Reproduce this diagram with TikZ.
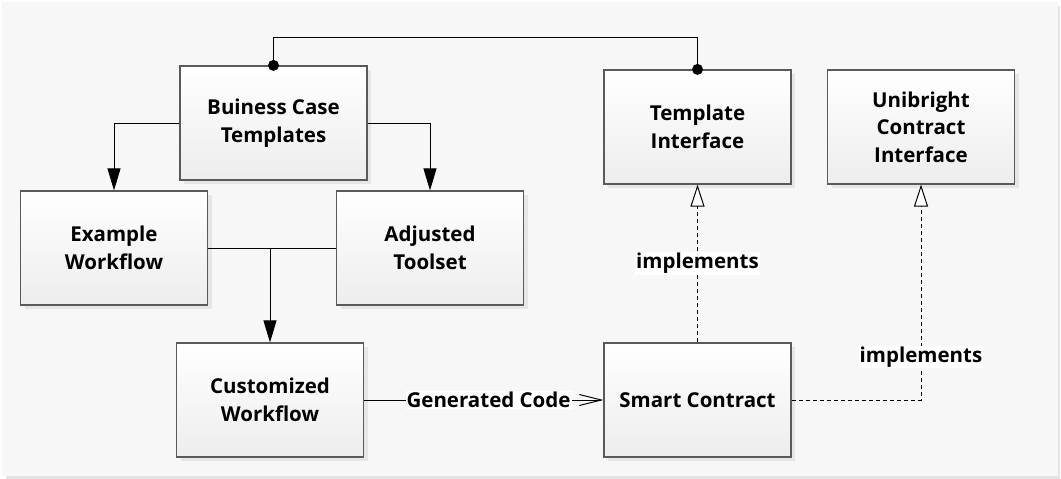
\documentclass[tikz,border=0pt]{standalone}
\usepackage{fontspec}
\setmainfont{Open Sans}
\usetikzlibrary{arrows.meta, shadows}

\definecolor{panelbg}{HTML}{F7F7F7}
\definecolor{panelshade}{HTML}{E4E4E4}
\definecolor{boxline}{HTML}{5A5A5A}
\definecolor{boxshade}{HTML}{E6E6E6}

\tikzset{
  block/.style={draw=boxline, line width=1.2pt, top color=white, bottom color=black!7,
    minimum width=187pt, minimum height=114pt, align=center,
    font=\bfseries\fontsize{20.5}{27.5}\selectfont,
    drop shadow={shadow xshift=4pt, shadow yshift=-4pt, fill=boxshade, opacity=1}},
  link/.style={line width=1pt, black},
  dashlink/.style={link, dash pattern=on 4pt off 3pt},
  lbl/.style={fill=white, inner sep=1pt, font=\bfseries\fontsize{20.5}{25}\selectfont},
  solidtip/.style={-{Triangle[length=22pt,width=13pt]}},
  opentip/.style={-{Triangle[open,length=22pt,width=14pt,fill=white]}},
  bartip/.style={-{Straight Barb[length=22pt,width=11pt]}}
}

\begin{document}
\begin{tikzpicture}[x=1pt, y=-1pt]
  \useasboundingbox (0,0) rectangle (1061,479);
  % panel
  \fill[panelshade] (6,6) rectangle (1060,479);
  \fill[panelbg] (2,2) rectangle (1058,476);

  % blocks
  \node[block] (bct) at (273.5,123) {Buiness Case\\Templates};
  \node[block] (exwf) at (114,248) {Example\\Workflow};
  \node[block] (adjts) at (430,248) {Adjusted\\Toolset};
  \node[block] (cuswf) at (270,400) {Customized\\Workflow};
  \node[block] (tmplif) at (697.5,127) {Template\\Interface};
  \node[block] (unibif) at (921,127) {Unibright\\Contract\\Interface};
  \node[block] (smartc) at (697.5,400) {Smart Contract};

  % template link
  \draw[link] (bct.north) -- ++(0,-28) -| (tmplif.north);
  \fill (bct.north) circle (5.5pt);
  \fill (tmplif.north) circle (5.5pt);

  % derived blocks
  \draw[link, solidtip] (bct.west) -| (exwf.north);
  \draw[link, solidtip] (bct.east) -| (adjts.north);
  \draw[link] (exwf.east) -- (adjts.west);
  \draw[link, solidtip] (exwf.east -| cuswf.north) -- (cuswf.north);

  % code generation
  \draw[link, bartip] (cuswf.east) -- node[lbl, pos=0.52] {Generated Code} (smartc.west);

  % realizations
  \draw[dashlink, opentip] (smartc.north) -- node[lbl] {implements} (tmplif.south);
  \draw[dashlink, opentip] (smartc.east) -| node[lbl, pos=0.6] {implements} (unibif.south);
\end{tikzpicture}
\end{document}
